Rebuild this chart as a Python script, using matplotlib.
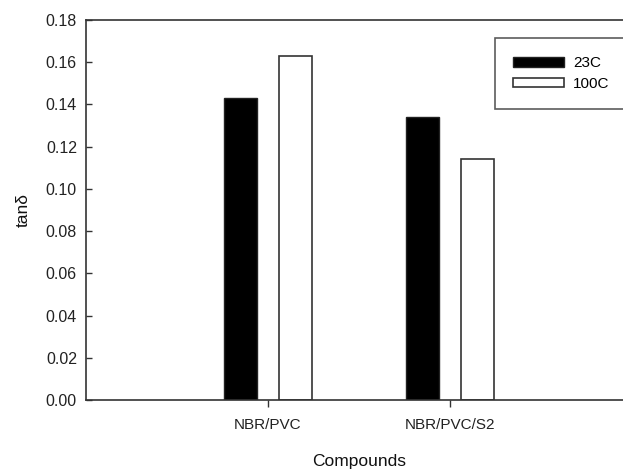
import matplotlib
matplotlib.use("Agg")
import matplotlib.pyplot as plt
import numpy as np

plt.rcParams['font.family'] = ['Liberation Sans', 'DejaVu Sans']

categories = ["NBR/PVC", "NBR/PVC/S2"]
series_names = ["23C", "100C"]
values_23C = [0.143, 0.134]
values_100C = [0.163, 0.114]
yticks = [0.00, 0.02, 0.04, 0.06, 0.08, 0.10, 0.12, 0.14, 0.16, 0.18]

W, H = 623, 470
fig = plt.figure(figsize=(W/100, H/100), dpi=100)
left, right, top, bottom = 86, 632, 20, 400
ax = fig.add_axes([left/W, (H-bottom)/H, (right-left)/W, (bottom-top)/H])

x = np.arange(1, len(categories)+1)
bw = 33.5/182
off = 27.5/182
ax.bar(x - off, values_23C, width=bw, color='black', edgecolor='#222222', linewidth=1.0, label=series_names[0])
ax.bar(x + off, values_100C, width=bw, color='white', edgecolor='#333333', linewidth=1.2, label=series_names[1])

ax.set_xlim(0, 3)
ax.set_ylim(0, 0.18)
ax.set_yticks(yticks)
ax.set_yticklabels([f"{v:.2f}" for v in yticks])
ax.set_xticks(x)
ax.set_xticklabels(categories)

for s in ax.spines.values():
    s.set_linewidth(1.2)
    s.set_color('#333333')

ax.tick_params(axis='y', direction='in', length=4, width=1.0, pad=6.5, labelsize=11.5, colors='#333333', labelcolor='#222222')
ax.tick_params(axis='x', direction='out', length=5, width=1.0, pad=8, labelsize=11, colors='#333333', labelcolor='#222222')

ax.set_xlabel("Compounds", fontsize=12.5, labelpad=16, color='#111111')
ax.set_ylabel("tanδ", fontsize=12.5, labelpad=11, color='#111111')

x0 = (495-left)/(right-left)
y0 = (bottom-38)/(bottom-top)
w = (650-495)/(right-left)
leg = ax.legend(loc='upper left', bbox_to_anchor=(x0, y0 - 0.2, w, 0.2), mode='expand',
                frameon=True, fancybox=False, fontsize=11, handlelength=3.3, handleheight=0.55,
                handletextpad=0.6, borderpad=1.2, labelspacing=0.42, borderaxespad=0)
leg.get_frame().set_edgecolor('#333333')
leg.get_frame().set_linewidth(1.2)

fig.savefig("out.png", dpi=100)
